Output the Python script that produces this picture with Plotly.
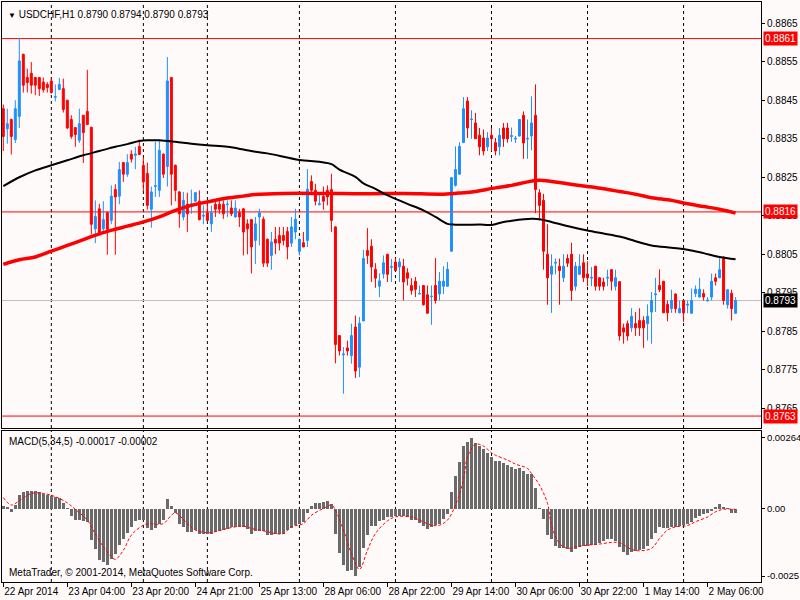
import plotly.graph_objects as go
from plotly.subplots import make_subplots

# USDCHF H1, 184 bars (index 0 = leftmost visible bar)
OPEN = [
    .88428, .88376, .88400, .88348, .88408, .88569, .88509, .88520, .88509, .88509,
    .88497, .88491, .88500, .88458, .88478, .88480, .88450, .88400, .88379, .88346,
    .88411, .88421, .88380, .88116, .88168, .88116, .88158, .88138, .88218, .88201,
    .88288, .88258, .88310, .88307, .88330, .88281, .88260, .88167, .88226, .88216,
    .88310, .88278, .88509, .88281, .88212, .88147, .88180, .88177, .88188, .88188,
    .88149, .88158, .88129, .88180, .88180, .88180, .88179, .88170, .88147, .88158,
    .88168, .88129, .88140, .88086, .88147, .88141, .88089, .88047, .88089, .88099,
    .88099, .88109, .88079, .88108, .88058, .88080, .88086, .88239, .88216, .88179,
    .88200, .88216, .88218, .88121, .87839, .87789, .87807, .87787, .87861, .87757,
    .87877, .88060, .88071, .88011, .87967, .87999, .88050, .88016, .88030, .88017,
    .88019, .88002, .87969, .87980, .87947, .87969, .87945, .87940, .87969, .87947,
    .87967, .87967, .88058, .88229, .88258, .88340, .88448, .88400, .88391, .88359,
    .88352, .88329, .88359, .88340, .88329, .88378, .88378, .88356, .88349, .88357,
    .88411, .88349, .88357, .88411, .88210, .88190, .88050, .87998, .88027, .88019,
    .87989, .88039, .88050, .87967, .87998, .88028, .87999, .87988, .88019, .87989,
    .87978, .87988, .88010, .87967, .87979, .87859, .87870, .87859, .87870, .87878,
    .87878, .87870, .87900, .87945, .87969, .87980, .87920, .87909, .87947, .87898,
    .87930, .87918, .87897, .87948, .87939, .87948, .87929, .87939, .87989, .87989,
    .88043, .87919, .87949, .87897,
]
HIGH = [
    .88439, .88428, .88402, .88450, .88612, .88571, .88532, .88549, .88510, .88510,
    .88509, .88497, .88508, .88491, .88508, .88506, .88451, .88411, .88380, .88428,
    .88411, .88529, .88380, .88190, .88181, .88188, .88160, .88229, .88232, .88290,
    .88288, .88310, .88320, .88329, .88348, .88301, .88288, .88226, .88342, .88348,
    .88312, .88562, .88510, .88283, .88214, .88212, .88210, .88218, .88212, .88216,
    .88177, .88186, .88177, .88190, .88192, .88190, .88190, .88190, .88190, .88168,
    .88170, .88141, .88142, .88147, .88168, .88148, .88091, .88108, .88121, .88121,
    .88121, .88121, .88147, .88168, .88091, .88108, .88271, .88255, .88233, .88207,
    .88226, .88229, .88259, .88123, .87840, .87809, .87826, .87870, .87891, .87887,
    .88062, .88118, .88089, .88027, .88001, .88047, .88051, .88038, .88040, .88040,
    .88038, .88014, .87988, .87991, .87969, .87970, .87969, .87969, .88040, .88004,
    .88019, .88030, .88250, .88330, .88341, .88458, .88458, .88424, .88417, .88378,
    .88374, .88367, .88378, .88352, .88378, .88391, .88391, .88379, .88357, .88401,
    .88421, .88400, .88460, .88491, .88219, .88207, .88128, .88050, .88039, .88039,
    .88050, .88050, .88080, .88030, .88050, .88050, .88032, .88017, .88020, .87990,
    .87989, .88010, .88011, .88010, .87980, .87870, .87878, .87910, .87900, .87910,
    .87889, .87920, .87952, .87989, .88011, .87981, .87930, .87958, .87948, .87930,
    .87931, .87930, .87961, .87969, .87989, .87959, .87939, .88000, .88000, .88040,
    .88044, .87958, .87958, .87939,
]
LOW = [
    .88318, .88337, .88309, .88339, .88378, .88470, .88470, .88467, .88463, .88461,
    .88470, .88470, .88467, .88447, .88476, .88418, .88375, .88350, .88329, .88339,
    .88287, .88387, .88102, .88079, .88099, .88102, .88049, .88128, .88049, .88180,
    .88238, .88251, .88288, .88271, .88309, .88214, .88166, .88119, .88199, .88199,
    .88248, .88226, .88177, .88188, .88119, .88138, .88108, .88155, .88186, .88138,
    .88128, .88138, .88108, .88147, .88155, .88142, .88147, .88149, .88145, .88121,
    .88047, .88050, .88000, .88025, .88073, .88017, .88017, .88010, .88050, .88060,
    .88073, .88037, .88069, .88089, .88047, .88069, .88069, .88207, .88177, .88177,
    .88166, .88177, .88108, .87767, .87787, .87688, .87787, .87766, .87729, .87731,
    .87877, .88025, .87978, .87963, .87939, .87987, .87978, .87978, .88008, .87978,
    .87930, .87969, .87945, .87939, .87946, .87917, .87897, .87867, .87922, .87930,
    .87947, .87966, .88058, .88226, .88258, .88340, .88352, .88350, .88350, .88307,
    .88307, .88318, .88318, .88307, .88307, .88329, .88340, .88342, .88339, .88356,
    .88298, .88298, .88320, .88157, .88138, .88010, .87919, .87898, .87998, .87919,
    .87978, .88017, .87929, .87956, .87998, .87978, .87967, .87967, .87956, .87956,
    .87956, .87967, .87956, .87956, .87826, .87818, .87826, .87848, .87838, .87838,
    .87807, .87826, .87818, .87900, .87952, .87898, .87876, .87898, .87898, .87897,
    .87874, .87897, .87896, .87939, .87938, .87930, .87928, .87930, .87969, .87988,
    .87919, .87909, .87878, .87896,
]
CLOSE = [
    .88356, .88389, .88356, .88428, .88552, .88489, .88496, .88489, .88489, .88480,
    .88477, .88483, .88470, .88459, .88491, .88426, .88378, .88356, .88361, .88389,
    .88366, .88387, .88128, .88148, .88102, .88140, .88115, .88201, .88199, .88270,
    .88258, .88288, .88297, .88310, .88309, .88238, .88177, .88212, .88228, .88320,
    .88258, .88500, .88258, .88216, .88155, .88190, .88155, .88181, .88210, .88140,
    .88151, .88138, .88158, .88167, .88167, .88155, .88180, .88155, .88170, .88147,
    .88108, .88116, .88069, .88129, .88158, .88027, .88027, .88082, .88079, .88079,
    .88086, .88069, .88121, .88141, .88089, .88069, .88219, .88216, .88188, .88181,
    .88188, .88199, .88138, .87816, .87799, .87791, .87799, .87839, .87747, .87871,
    .88039, .88047, .88017, .87988, .87981, .88028, .87998, .88018, .88008, .88030,
    .87978, .87988, .87956, .87959, .87948, .87919, .87897, .87941, .87930, .87980,
    .87980, .88011, .88249, .88270, .88330, .88428, .88378, .88401, .88350, .88329,
    .88318, .88352, .88350, .88318, .88359, .88350, .88350, .88358, .88351, .88400,
    .88339, .88351, .88391, .88218, .88177, .88058, .87989, .88019, .88029, .88008,
    .88019, .88027, .87956, .88019, .88019, .87989, .87989, .87990, .87967, .87967,
    .87967, .87990, .87980, .87989, .87838, .87848, .87838, .87889, .87859, .87859,
    .87859, .87889, .87930, .87947, .87958, .87898, .87898, .87930, .87909, .87909,
    .87898, .87920, .87930, .87959, .87959, .87939, .87931, .87980, .87980, .88010,
    .87930, .87958, .87909, .87930,
]

# moving averages, read at sample bars
MA_BLACK_BAR = [0, 4, 8, 12, 16, 20, 24, 28, 31, 34, 36, 39, 43, 47, 51, 56, 60, 63, 66, 74,
                79, 82, 84, 88, 90, 93, 95, 98, 101, 105, 108, 111, 113, 120, 122, 125, 127, 132, 134, 137,
                142, 146, 150, 154, 158, 162, 167, 171, 175, 179, 183]
MA_BLACK = [.88227, .88250, .88268, .88281, .88294, .88307, .88318, .88329, .88336, .88344,
            .88346, .88346, .88342, .88337, .88333, .88329, .88322, .88316, .88312, .88295,
            .88290, .88284, .88270, .88251, .88234, .88220, .88208, .88194, .88181, .88164,
            .88147, .88129, .88127, .88127, .88126, .88134, .88137, .88142, .88141, .88134,
            .88121, .88112, .88104, .88096, .88084, .88073, .88067, .88062, .88053, .88043,
            .88037]
MA_RED_BAR = [0, 4, 8, 12, 16, 20, 24, 28, 31, 35, 39, 43, 47, 51, 56, 60, 63, 70, 80, 90,
              100, 110, 115, 118, 121, 124, 127, 131, 134, 137, 141, 146, 150, 154, 158, 162, 167, 171, 175, 179,
              183]
MA_RED = [.88024, .88036, .88043, .88058, .88073, .88088, .88103, .88115, .88123, .88134,
          .88147, .88164, .88177, .88186, .88196, .88201, .88205, .88208, .88208, .88207,
          .88208, .88206, .88210, .88213, .88219, .88224, .88229, .88238, .88242, .88239,
          .88233, .88226, .88220, .88213, .88206, .88197, .88190, .88181, .88174, .88167,
          .88157]

# MACD(5,34,5) histogram, one value per bar
MACD = [
    .00010, .00007, -.00011, .00014, .00052, .00061, .00066, .00066, .00066, .00063,
    .00055, .00051, .00047, .00042, .00040, .00022, .00001, -.00027, -.00040, -.00042,
    -.00046, -.00048, -.00116, -.00151, -.00191, -.00197, -.00208, -.00185, -.00169, -.00135,
    -.00112, -.00090, -.00067, -.00046, -.00042, -.00042, -.00073, -.00079, -.00071, -.00057,
    -.00042, .00036, .00011, -.00017, -.00055, -.00069, -.00085, -.00087, -.00079, -.00092,
    -.00094, -.00092, -.00092, -.00087, -.00082, -.00077, -.00074, -.00069, -.00067, -.00067,
    -.00069, -.00074, -.00092, -.00082, -.00082, -.00084, -.00097, -.00099, -.00094, -.00094,
    -.00094, -.00079, -.00073, -.00061, -.00055, -.00048, -.00015, .00012, .00020, .00022,
    .00024, .00028, .00016, -.00092, -.00166, -.00209, -.00230, -.00228, -.00249, -.00216,
    -.00147, -.00098, -.00064, -.00064, -.00046, -.00040, -.00032, -.00030, -.00027, -.00027,
    -.00027, -.00030, -.00040, -.00042, -.00052, -.00064, -.00074, -.00067, -.00062, -.00055,
    -.00037, -.00020, .00062, .00121, .00175, .00233, .00248, .00263, .00243, .00233,
    .00221, .00206, .00193, .00178, .00178, .00171, .00161, .00156, .00149, .00151,
    .00139, .00131, .00131, .00077, .00001, -.00037, -.00098, -.00114, -.00139, -.00147,
    -.00147, -.00149, -.00160, -.00149, -.00141, -.00139, -.00139, -.00136, -.00133, -.00129,
    -.00121, -.00114, -.00114, -.00119, -.00141, -.00160, -.00171, -.00159, -.00156, -.00154,
    -.00151, -.00139, -.00112, -.00089, -.00069, -.00073, -.00073, -.00067, -.00067, -.00064,
    -.00061, -.00055, -.00048, -.00036, -.00027, -.00021, -.00017, -.00009, .00005, .00017,
    .00004, .00001, -.00014, -.00017,
]
SIGNAL_BAR = [0, 2, 4, 7, 10, 13, 16, 18, 21, 23, 25, 27, 28, 30, 32, 35, 37, 38, 40, 42,
              43, 46, 48, 51, 53, 56, 58, 60, 62, 66, 68, 70, 72, 75, 77, 80, 82, 83, 85, 87,
              89, 91, 93, 96, 98, 102, 104, 107, 109, 111, 113, 115, 116, 118, 120, 122, 123, 126, 128, 131,
              132, 134, 136, 137, 139, 141, 143, 146, 149, 152, 154, 157, 159, 162, 164, 166, 168, 171, 173, 176,
              178, 180, 183]
SIGNAL = [.00042, .00014, .00030, .00057, .00057, .00045, .00022, -.00002, -.00042, -.00094,
          -.00141, -.00178, -.00188, -.00154, -.00098, -.00061, -.00055, -.00057, -.00055, -.00024,
          -.00015, -.00055, -.00079, -.00089, -.00085, -.00073, -.00067, -.00064, -.00073, -.00085,
          -.00092, -.00092, -.00067, -.00055, -.00024, .00001, .00014, -.00005, -.00079, -.00166,
          -.00225, -.00154, -.00092, -.00045, -.00030, -.00030, -.00042, -.00061, -.00061, -.00042,
          .00014, .00107, .00193, .00240, .00233, .00208, .00199, .00181, .00166, .00150,
          .00131, .00088, .00020, -.00061, -.00129, -.00147, -.00141, -.00135, -.00131, -.00125,
          -.00126, -.00151, -.00156, -.00147, -.00110, -.00079, -.00067, -.00062, -.00048, -.00030,
          -.00011, -.00002, -.00002]

LEVELS = [0.8861, 0.8816, 0.8763]
BID = 0.8793
PRICE_TICKS = [0.8765, 0.8775, 0.8785, 0.8795, 0.8805, 0.8815, 0.8825, 0.8835, 0.8845, 0.8855, 0.8865]
MACD_TICKS = [0.00264, 0.0, -0.0025]
MACD_TICK_TEXT = ["0.00264", "0.00", "-0.0025"]
GRID_BARS = [12, 35, 51, 74, 98, 122, 146, 170]
TIME_LABELS = ["22 Apr 2014", "23 Apr 04:00", "23 Apr 20:00", "24 Apr 21:00", "25 Apr 13:00",
               "28 Apr 06:00", "28 Apr 22:00", "29 Apr 14:00", "30 Apr 06:00", "30 Apr 22:00",
               "1 May 14:00", "2 May 06:00"]
LABEL_STEP = 16

BG = "#FFFAFA"
FONT = "Liberation Sans"


def build_figure():
    bars = list(range(len(CLOSE)))
    fig = make_subplots(rows=2, cols=1, vertical_spacing=0.005)

    fig.add_trace(go.Candlestick(
        x=bars, open=OPEN, high=HIGH, low=LOW, close=CLOSE,
        increasing=dict(line=dict(color="#1E90FF", width=1), fillcolor="#1E90FF"),
        decreasing=dict(line=dict(color="#FF0000", width=1), fillcolor="#FF0000"),
        whiskerwidth=0, showlegend=False, hoverinfo="skip",
    ), row=1, col=1)
    fig.add_trace(go.Scatter(x=MA_RED_BAR, y=MA_RED, mode="lines", line=dict(color="#FF0000", width=3.5, shape="spline"),
                             showlegend=False, hoverinfo="skip"), row=1, col=1)
    fig.add_trace(go.Scatter(x=MA_BLACK_BAR, y=MA_BLACK, mode="lines", line=dict(color="#000000", width=2, shape="spline"),
                             showlegend=False, hoverinfo="skip"), row=1, col=1)

    fig.add_trace(go.Bar(x=bars, y=MACD, width=0.75, marker=dict(color="#6A6A6A", line=dict(width=0)),
                         showlegend=False, hoverinfo="skip"), row=2, col=1)
    fig.add_trace(go.Scatter(x=SIGNAL_BAR, y=SIGNAL, mode="lines",
                             line=dict(color="#FF0000", width=1, dash="3px,2px", shape="spline"),
                             showlegend=False, hoverinfo="skip"), row=2, col=1)

    # day separators
    for b in GRID_BARS:
        for r in (1, 2):
            fig.add_vline(x=b, line=dict(color="black", width=1, dash="3px,3px"), layer="below", row=r, col=1)

    for lvl in LEVELS:
        fig.add_hline(y=lvl, line=dict(color="#FF0000", width=1), layer="below", row=1, col=1)
    fig.add_hline(y=BID, line=dict(color="#C0C0C0", width=1), layer="below", row=1, col=1)

    xrange = [-0.325, 189.35]
    axis_common = dict(showline=True, mirror=True, linecolor="black", linewidth=1, showgrid=False,
                       zeroline=False, automargin=False)
    fig.update_xaxes(range=xrange, **axis_common)
    fig.update_xaxes(showticklabels=False, ticks="", rangeslider_visible=False, row=1, col=1)
    fig.update_xaxes(
        tickmode="array",
        tickvals=[i * LABEL_STEP for i in range(len(TIME_LABELS))],
        ticktext=TIME_LABELS,
        ticks="outside", ticklen=4, tickcolor="black", tickangle=0,
        ticklabelposition="outside right",
        tickfont=dict(family=FONT, size=10, color="black"),
        row=2, col=1,
    )

    fig.update_yaxes(
        side="right", range=[0.87599, 0.88705], domain=[0.2655, 1.0],
        tickmode="array", tickvals=PRICE_TICKS, tickformat=".4f",
        ticks="outside", ticklen=3, tickcolor="black",
        tickfont=dict(family=FONT, size=10, color="black"),
        row=1, col=1, **axis_common,
    )
    fig.update_yaxes(
        side="right", range=[-0.00272, 0.00289], domain=[0.0, 0.2603],
        tickmode="array", tickvals=MACD_TICKS, ticktext=MACD_TICK_TEXT,
        ticks="outside", ticklen=3, tickcolor="black",
        tickfont=dict(family=FONT, size=9.5, color="black"),
        row=2, col=1, **axis_common,
    )

    # price tags on the right scale
    for lvl in LEVELS:
        fig.add_annotation(x=1, xref="paper", xanchor="left", xshift=2, y=lvl, yref="y", text=f"{lvl:.4f}",
                           showarrow=False, bgcolor="#FF0000", borderpad=1,
                           font=dict(family=FONT, size=10, color="white"))
    fig.add_annotation(x=1, xref="paper", xanchor="left", xshift=2, y=BID, yref="y", text=f"{BID:.4f}",
                       showarrow=False, bgcolor="#000000", borderpad=1,
                       font=dict(family=FONT, size=10, color="white"))

    last = len(CLOSE) - 1
    header = (f"<span style='font-size:8px'>▼</span> USDCHF,H1 {OPEN[last]:.4f} {HIGH[last]:.4f} "
              f"{LOW[last]:.4f} {CLOSE[last]:.4f}")
    fig.add_annotation(x=0, xref="paper", xanchor="left", xshift=4, y=1, yref="paper", yanchor="top", yshift=-5,
                       text=header, showarrow=False, font=dict(family=FONT, size=10, color="black"))
    fig.add_annotation(x=0, xref="x2 domain", xanchor="left", xshift=5, y=1, yref="y2 domain", yanchor="top", yshift=-3,
                       text=f"MACD(5,34,5) {MACD[last]:.5f} {SIGNAL[-1]:.5f}", showarrow=False,
                       font=dict(family=FONT, size=10, color="black"))
    fig.add_annotation(x=0, xref="x2 domain", xanchor="left", xshift=5, y=0, yref="y2 domain", yanchor="bottom", yshift=2,
                       text="MetaTrader, © 2001-2014, MetaQuotes Software Corp.", showarrow=False,
                       font=dict(family=FONT, size=10, color="black"))

    fig.update_layout(
        width=800, height=600,
        margin=dict(l=2, r=39, t=2, b=18),
        paper_bgcolor=BG, plot_bgcolor=BG,
        bargap=0, boxgap=0.3,
        showlegend=False,
        hovermode=False,
    )
    return fig


def main():
    fig = build_figure()
    # the page's default body margin would shift the 800x600 figure
    fig.write_html("out.html", config={"displayModeBar": False},
                   post_script="document.body.style.margin='0';")


if __name__ == "__main__":
    main()
